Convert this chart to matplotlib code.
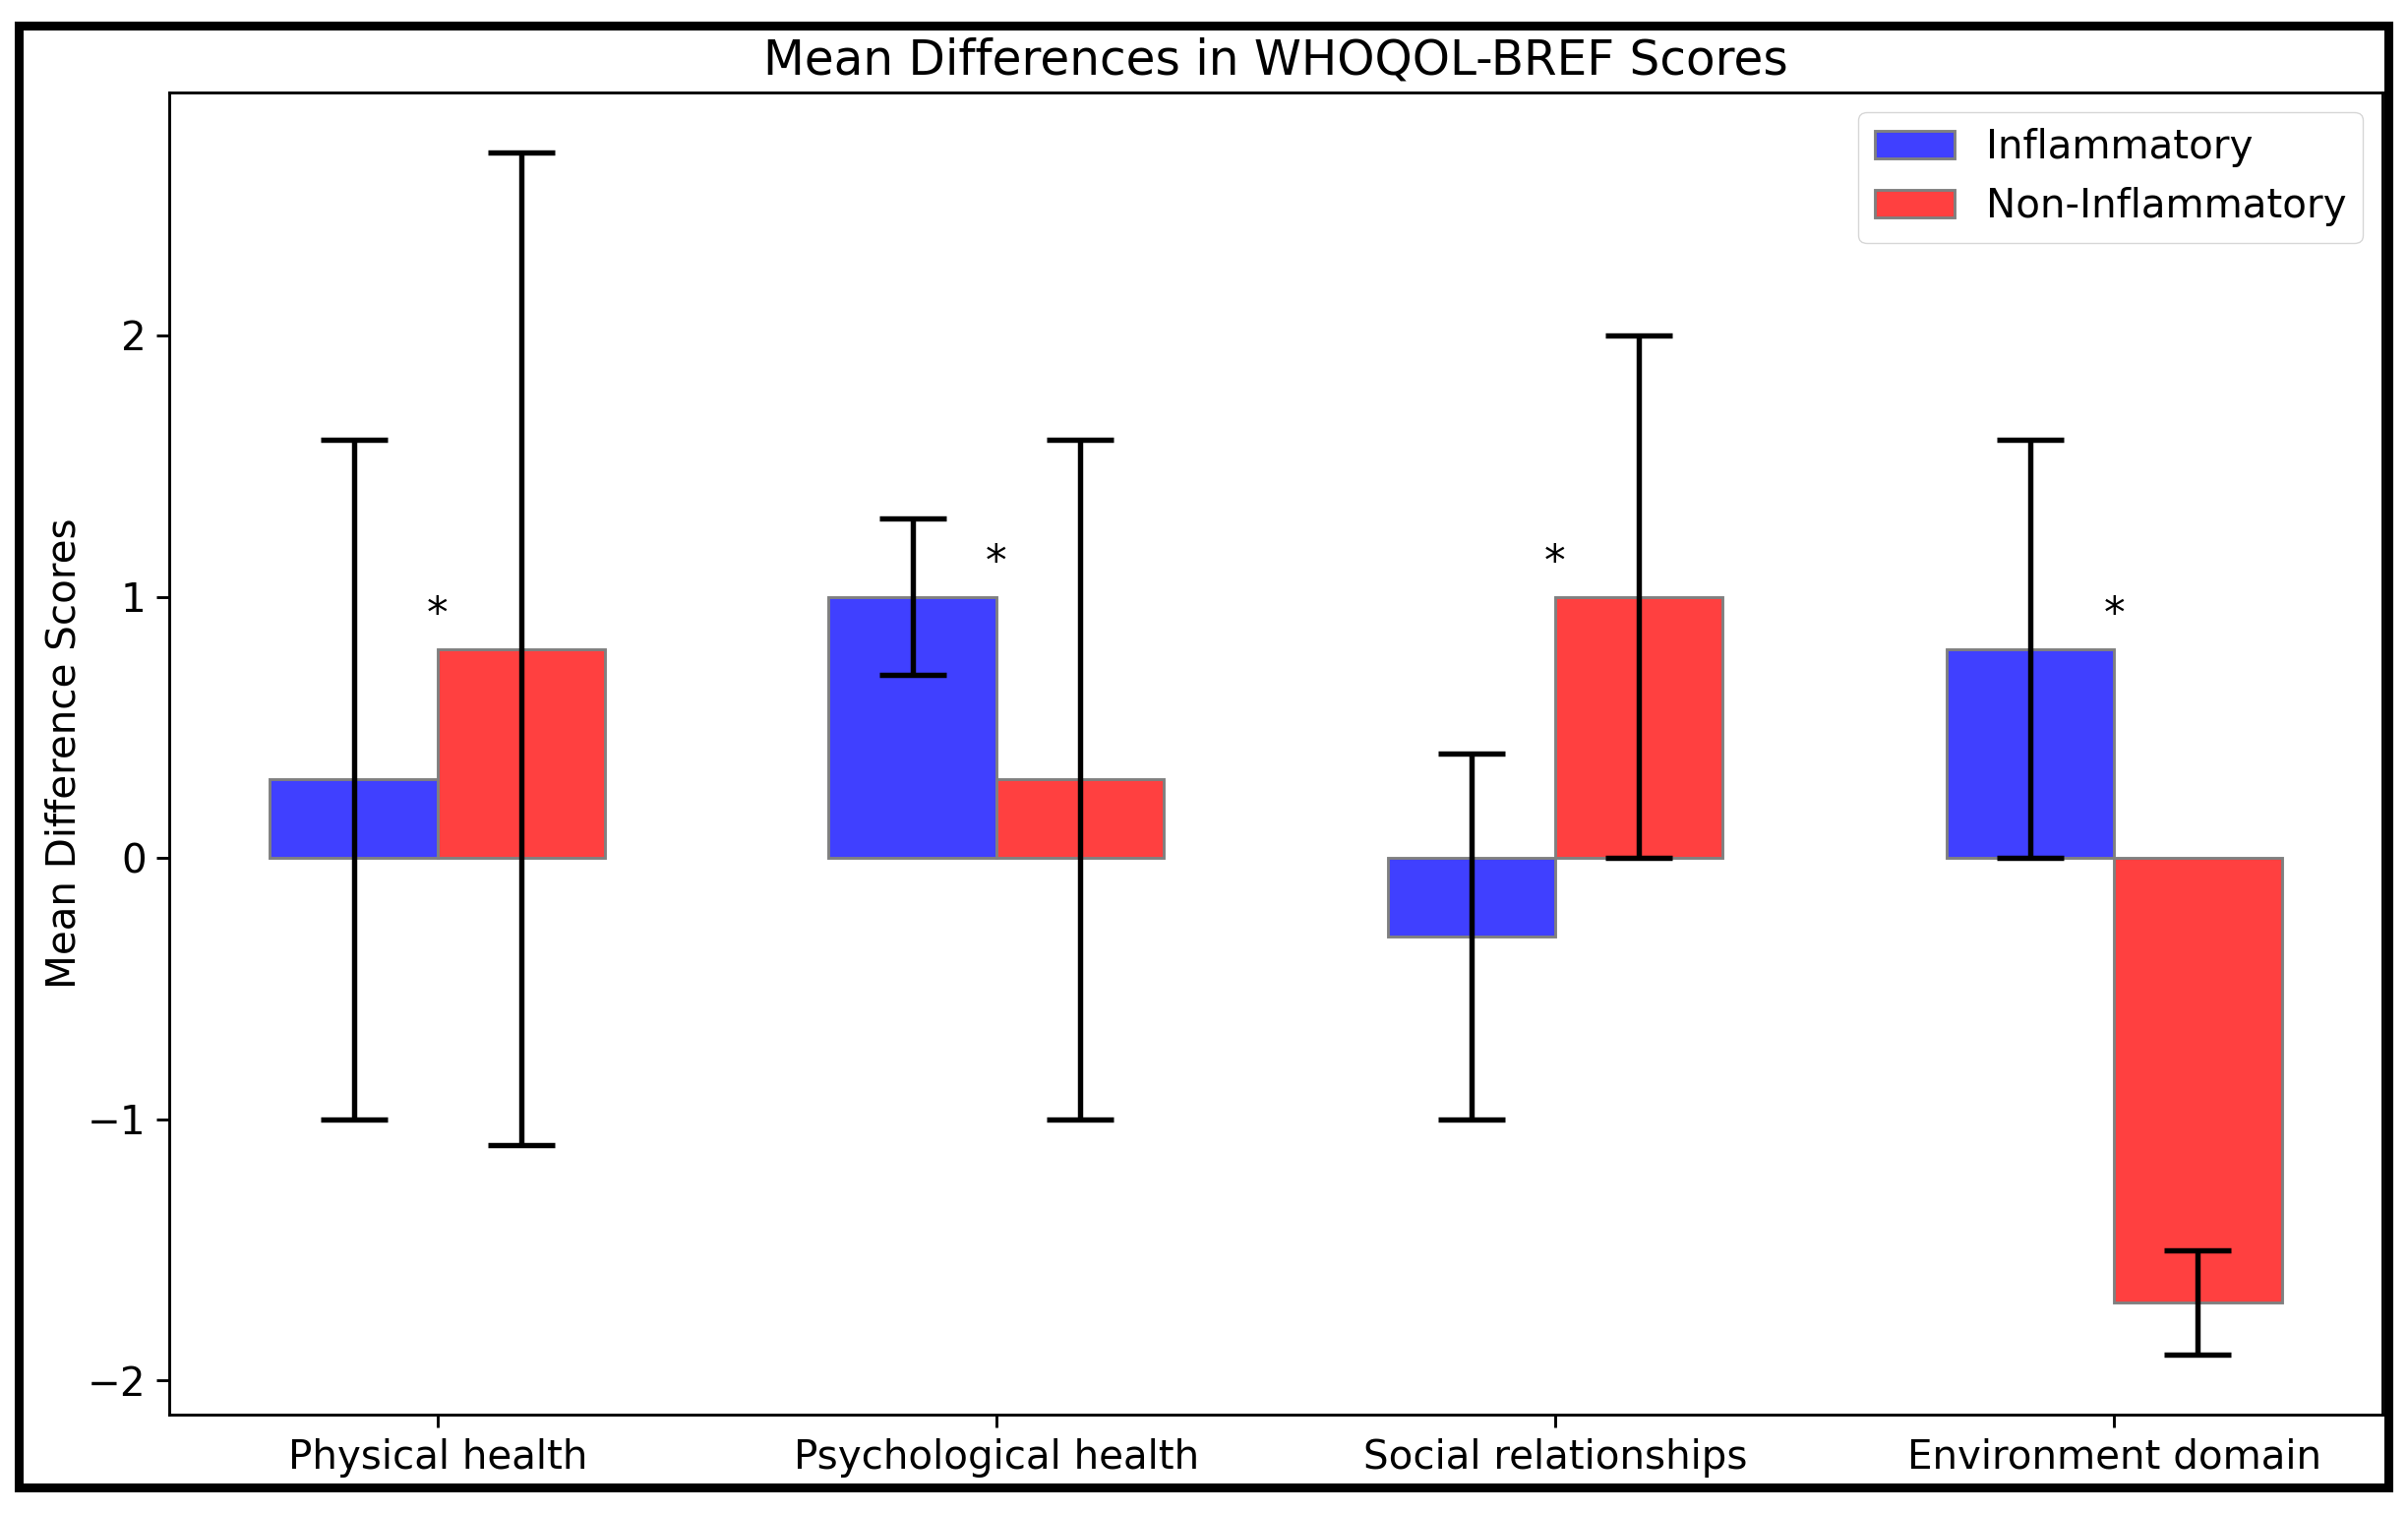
import matplotlib.pyplot as plt
from matplotlib.patches import Rectangle
import numpy as np

# WHOQOL-BREF domains and mean difference scores
domains = ['Physical health', 'Psychological health', 'Social relationships', 'Environment domain']
inflam_mean = [0.3, 1.0, -0.3, 0.8]
inflam_err = [1.3, 0.3, 0.7, 0.8]
noninflam_mean = [0.8, 0.3, 1.0, -1.7]
noninflam_err = [1.9, 1.3, 1.0, 0.2]
signif = ['*', '*', '*', '*']

s = 2.6  # scale relative to a default 100 dpi figure
f = 1.12  # text a bit larger than the marks
x = np.arange(len(domains))
w = 0.3

fig = plt.figure(figsize=(24.48, 15.38), dpi=100)
ax = fig.add_axes([0.0703, 0.065, 0.919, 0.874])

err_kw = dict(elinewidth=1.5 * s, capthick=1.5 * s, ecolor='black')
ax.bar(x - w / 2, inflam_mean, w, yerr=inflam_err, capsize=9.5 * s, color='#4040ff',
       edgecolor='grey', linewidth=0.8 * s, label='Inflammatory', error_kw=err_kw)
ax.bar(x + w / 2, noninflam_mean, w, yerr=noninflam_err, capsize=9.5 * s, color='#ff4040',
       edgecolor='grey', linewidth=0.8 * s, label='Non-Inflammatory', error_kw=err_kw)

# significance markers above the taller bar of each pair
for i in range(len(domains)):
    top = max(inflam_mean[i], noninflam_mean[i])
    ax.text(x[i], top + 0.05, signif[i], ha='center', va='bottom', fontsize=12 * s)

ax.set_xticks(x)
ax.set_xticklabels(domains)
ax.set_yticks([-2, -1, 0, 1, 2])
ax.set_ylabel('Mean Difference Scores', fontsize=10 * s * f, labelpad=2.5)
ax.set_title('Mean Differences in WHOQOL-BREF Scores', fontsize=12 * s * f, pad=5 * s)
ax.tick_params(labelsize=10 * s * f, length=3.5 * s, width=0.8 * s, pad=3 * s)
for sp in ax.spines.values():
    sp.set_linewidth(0.8 * s)
ax.legend(fontsize=10 * s * f, loc='upper right', borderpad=0.4, handlelength=2.0,
          framealpha=0.8, fancybox=True)

# black frame around the whole picture
fig.patches.append(Rectangle((0.0077, 0.017), 0.9843, 0.966, transform=fig.transFigure,
                             fill=False, edgecolor='black', linewidth=6.5))

fig.savefig('out.png', dpi=100)
